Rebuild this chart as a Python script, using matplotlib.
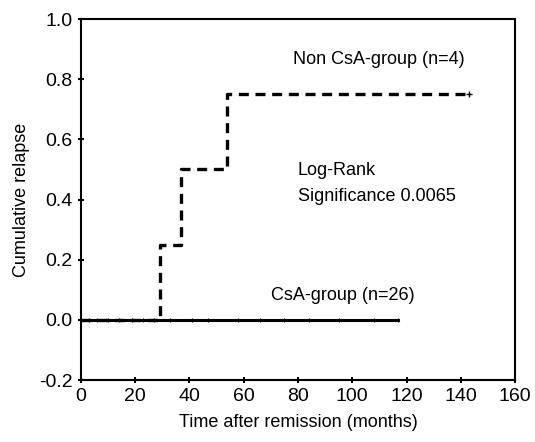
import numpy as np
import matplotlib.pyplot as plt

plt.rcParams['font.family'] = ['Liberation Sans', 'DejaVu Sans']

# Non CsA-group step curve
non_t = [0, 29, 37, 54, 143]
non_y = [0.0, 0.25, 0.5, 0.75, 0.75]
# CsA-group
csa_t = [0, 117]
csa_y = [0.0, 0.0]
csa_cens = [3, 6, 10, 14, 19, 23, 27, 33, 41, 47, 58, 66, 75, 84, 95, 108, 117]

fig = plt.figure(figsize=(5.35, 4.42), dpi=100)
ax = fig.add_axes([0.151, 0.140, 0.812, 0.817])

ax.step(csa_t, csa_y, where='post', color='black', lw=2.2)
ax.plot(csa_cens, [0] * len(csa_cens), '|', color='black', ms=3, mew=0.8)
ax.step(non_t, non_y, where='post', color='black', lw=2.4, ls=(0, (3, 2)))
ax.plot([143], [0.75], '+', color='black', ms=5, mew=1)

ax.text(78, 0.85, 'Non CsA-group (n=4)', fontsize=13)
ax.text(80, 0.48, 'Log-Rank', fontsize=13)
ax.text(80, 0.395, 'Significance 0.0065', fontsize=13)
ax.text(70, 0.065, 'CsA-group (n=26)', fontsize=13)

ax.set_xlim(0, 160)
ax.set_ylim(-0.2, 1.0)
ax.set_xticks(np.arange(0, 161, 20))
ax.set_yticks(np.arange(-0.2, 1.01, 0.2))
ax.set_yticklabels(['-0.2', '0.0', '0.2', '0.4', '0.6', '0.8', '1.0'])
ax.tick_params(direction='inout', length=4, width=1.5, labelsize=14, pad=4)
for s in ax.spines.values():
    s.set_linewidth(1.5)
ax.set_xlabel('Time after remission (months)', fontsize=13, labelpad=6)
ax.set_ylabel('Cumulative relapse', fontsize=13, labelpad=6)

fig.savefig('out.png', dpi=100)
